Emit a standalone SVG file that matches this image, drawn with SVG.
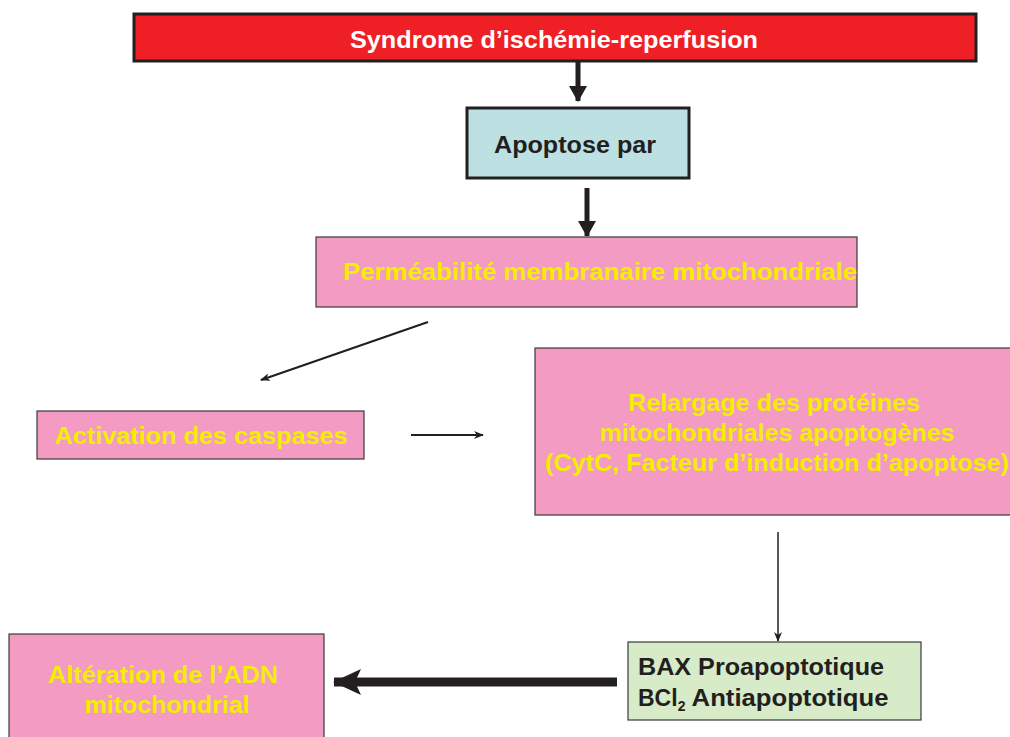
<svg xmlns="http://www.w3.org/2000/svg" width="1010" height="737" viewBox="0 0 1010 737">
<defs>
<style>
.t{font-family:"Liberation Sans",Arial,sans-serif;font-weight:bold;text-anchor:middle;font-size:23px}
.y{fill:#f4ee00}
.pink{fill:#f39bc3;stroke:#3a3a3a;stroke-width:1.2}
.ln{stroke:#231f20;fill:none}
</style>
<marker id="ah" markerWidth="10" markerHeight="8" refX="9" refY="4" orient="auto" markerUnits="userSpaceOnUse"><path d="M0,0 L10,4 L0,8 L3,4 Z" fill="#231f20"/></marker>
<marker id="ahb" markerWidth="16" markerHeight="18" refX="15" refY="9" orient="auto" markerUnits="userSpaceOnUse"><path d="M0,0 L16,9 L0,18 Z" fill="#231f20"/></marker>
<marker id="ahbig" markerWidth="28" markerHeight="26" refX="27" refY="13" orient="auto" markerUnits="userSpaceOnUse"><path d="M0,0 L28,13 L0,26 L6,13 Z" fill="#231f20"/></marker>
</defs>
<rect width="1010" height="737" fill="#ffffff"/>
<g id="connectors">
<line class="ln" x1="578" y1="61" x2="578" y2="101" stroke-width="5" marker-end="url(#ahb)"/>
<line class="ln" x1="587" y1="188" x2="587" y2="236" stroke-width="5" marker-end="url(#ahb)"/>
<line class="ln" x1="428" y1="322" x2="261" y2="380" stroke-width="2.2" marker-end="url(#ah)"/>
<line class="ln" x1="411" y1="435" x2="483" y2="435" stroke-width="2.2" marker-end="url(#ah)"/>
<line class="ln" x1="778" y1="532" x2="778" y2="641" stroke-width="1.5" marker-end="url(#ah)"/>
<line class="ln" x1="617" y1="682" x2="334" y2="682" stroke-width="9" marker-end="url(#ahbig)"/>
</g>
<g id="n1">
<rect x="134" y="14" width="842" height="47" fill="#ee1f25" stroke="#231f20" stroke-width="3"/>
<text class="t" x="554" y="48" fill="#ffffff" textLength="408" lengthAdjust="spacingAndGlyphs">Syndrome d’ischémie-reperfusion</text>
</g>
<g id="n2">
<rect x="467" y="108" width="222" height="70" fill="#bde1e3" stroke="#231f20" stroke-width="3"/>
<text class="t" x="575" y="153" fill="#231f20" textLength="162" lengthAdjust="spacingAndGlyphs">Apoptose par</text>
</g>
<g id="n3">
<rect class="pink" x="316" y="237" width="541" height="70"/>
<text class="t y" x="600" y="280" textLength="514" lengthAdjust="spacingAndGlyphs">Perméabilité membranaire mitochondriale</text>
</g>
<g id="n4">
<rect class="pink" x="37" y="411" width="327" height="48"/>
<text class="t y" x="201" y="444" textLength="293" lengthAdjust="spacingAndGlyphs">Activation des caspases</text>
</g>
<g id="n5">
<rect class="pink" x="535" y="348" width="480" height="167"/>
<text class="t y" x="774" y="411" textLength="292" lengthAdjust="spacingAndGlyphs">Relargage des protéines</text>
<text class="t y" x="777" y="441" textLength="355" lengthAdjust="spacingAndGlyphs">mitochondriales apoptogènes</text>
<text class="t y" x="777" y="471" textLength="464" lengthAdjust="spacingAndGlyphs">(CytC, Facteur d’induction d’apoptose)</text>
</g>
<g id="n6">
<rect x="628" y="642" width="293" height="78" fill="#d7ebc8" stroke="#3a3a3a" stroke-width="1.2"/>
<text class="t" x="638" y="675" fill="#231f20" style="text-anchor:start" textLength="246" lengthAdjust="spacingAndGlyphs">BAX Proapoptotique</text>
<text class="t" x="638" y="706" fill="#231f20" style="text-anchor:start">BCl<tspan font-size="14" dy="5">2</tspan><tspan dy="-5" textLength="203" lengthAdjust="spacingAndGlyphs"> Antiapoptotique</tspan></text>
</g>
<g id="n7">
<rect class="pink" x="9" y="634" width="315" height="110"/>
<text class="t y" x="163" y="683" textLength="230" lengthAdjust="spacingAndGlyphs">Altération de l’ADN</text>
<text class="t y" x="167" y="713" textLength="165" lengthAdjust="spacingAndGlyphs">mitochondrial</text>
</g>
</svg>
